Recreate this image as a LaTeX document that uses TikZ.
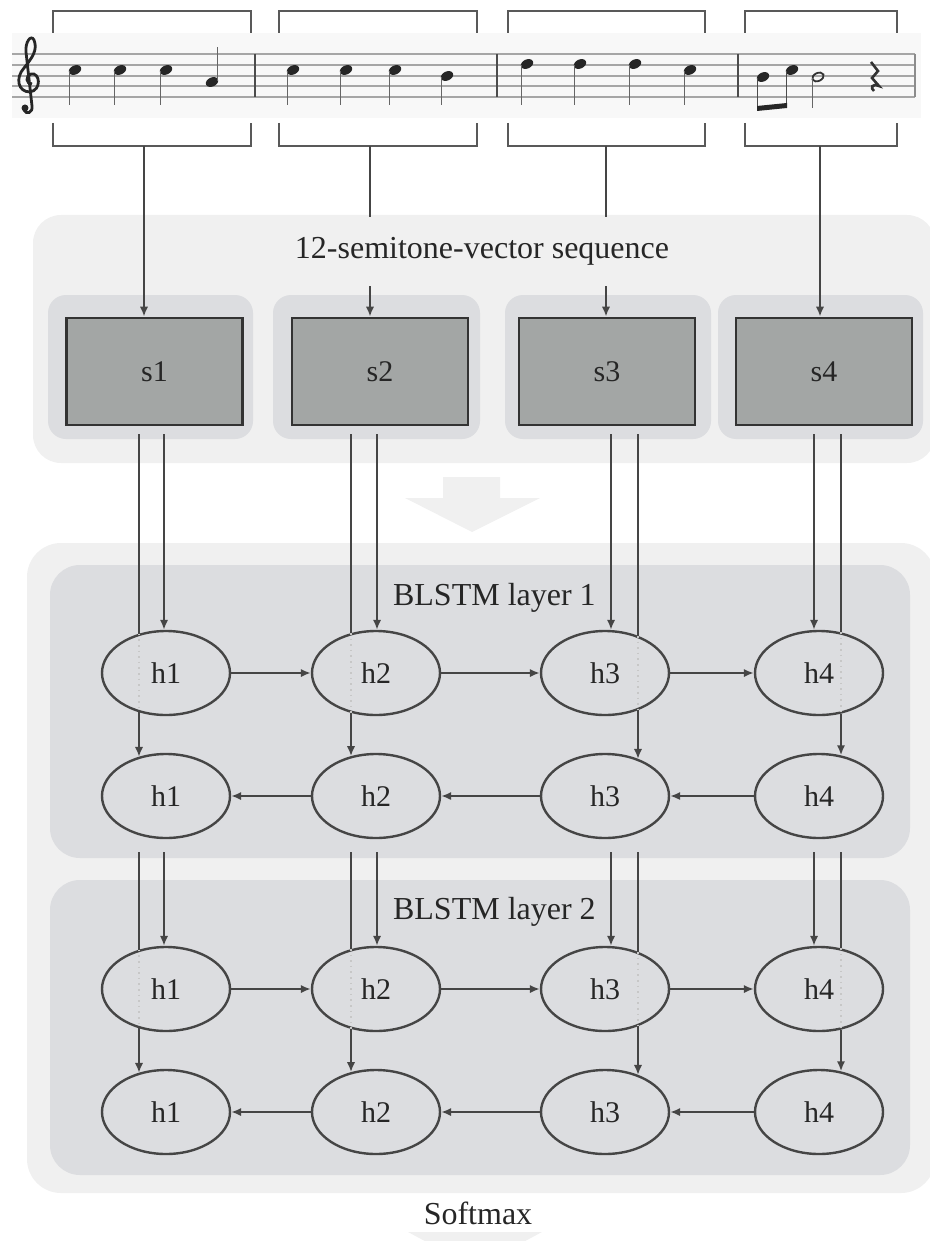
\documentclass[tikz,border=0pt]{standalone}
\usepackage{fontspec}
\setmainfont{Liberation Serif}
\usepackage{tikz}
\usetikzlibrary{shapes.geometric, arrows.meta, calc}
\definecolor{panel}{HTML}{F0F0F0}
\definecolor{layer}{HTML}{DCDDE0}
\definecolor{boxfill}{HTML}{A3A6A5}
\definecolor{ink}{HTML}{454545}
\definecolor{staffbg}{HTML}{F8F8F8}
\tikzstyle{vec} = [rectangle, minimum width=88pt, minimum height=53.5pt, text centered, draw=black!80, line width=1.4pt, fill=boxfill, text=black!85, font=\fontsize{15}{18}\selectfont]
\tikzstyle{cell} = [ellipse, minimum width=64pt, minimum height=42pt, inner sep=0pt, draw=ink, line width=1.2pt, text=black!85, font=\fontsize{15}{18}\selectfont]
\tikzstyle{wire} = [draw=ink, line width=1pt]
\tikzstyle{arrow} = [wire, -{Latex[length=5pt,width=4.2pt]}]
\tikzstyle{dotwire} = [draw=black!22, line width=0.8pt, dotted]
\tikzstyle{layertext} = [text=black!85, font=\fontsize{16}{19}\selectfont]
\tikzstyle{bracket} = [draw=black!65, line width=1.2pt]

\begin{document}
\begin{tikzpicture}[x=0.5pt, y=-0.5pt]
   \useasboundingbox (0,0) rectangle (930,1241);

   \fill[staffbg] (12,33) rectangle (921,118);
   \foreach \k in {0,...,4}
      \draw[black!35, line width=1pt] (12,{54+10.8*\k}) -- (915,{54+10.8*\k});
   \foreach \x in {255, 497, 738}
      \draw[black!70, line width=1.2pt] (\x,54) -- (\x,97.2);
   \draw[black!45, line width=0.8pt] (915,54) -- (915,97.2);
   \draw[black!85, line width=1.4pt] (32,84) .. controls (26,84) and (25,76) .. (31,74)
      .. controls (40,72) and (42,90) .. (30,92) .. controls (18,92) and (15,78) .. (24,68)
      .. controls (32,58) and (38,50) .. (34,40) .. controls (31,34) and (25,42) .. (26,52)
      -- (32,106) .. controls (33,113) and (26,115) .. (24,110);
   \fill[black!85] (25,108) circle [radius=3.5];
   \foreach \x/\y in {75/70, 120/70, 166/70, 293/70, 346/70, 395/70, 447/76, 527/64, 580/64, 635/64, 690/70} {
      \fill[black!85, shift={(\x,\y)}, rotate=25] (0,0) ellipse [x radius=6.5, y radius=4.5];
      \draw[black!60, line width=0.9pt] (\x-5.5,\y+1) -- (\x-5.5,105);
   }
   \fill[black!85, shift={(212,82)}, rotate=25] (0,0) ellipse [x radius=6.5, y radius=4.5];
   \draw[black!60, line width=0.9pt] (217.5,81) -- (217.5,47);
   \fill[black!85, shift={(763,77)}, rotate=25] (0,0) ellipse [x radius=6.5, y radius=4.5];
   \fill[black!85, shift={(792,70)}, rotate=25] (0,0) ellipse [x radius=6.5, y radius=4.5];
   \draw[black!70, line width=0.9pt] (757.5,78) -- (757.5,108) (786.5,71) -- (786.5,106);
   \fill[black!85] (757,106) -- (787,103) -- (787,108) -- (757,111) -- cycle;
   \draw[black!80, line width=0.9pt, shift={(818,77)}, rotate=25] (0,0) ellipse [x radius=6, y radius=4];
   \draw[black!60, line width=0.9pt] (812.5,78) -- (812.5,108);
   \draw[black!80, line width=1.3pt] (871,62) -- (878,71) -- (872,78) -- (879,86)
      .. controls (872,83) and (870,88) .. (874,91);

   \foreach \l/\r in {53/251, 279/477, 508/705, 745/897} {
      \draw[bracket] (\l,33) -- (\l,11) -- (\r,11) -- (\r,33);
      \draw[bracket] (\l,123) -- (\l,146) -- (\r,146) -- (\r,123);
   }
   \coordinate (m1) at (144,146);
   \coordinate (m2) at (370,146);
   \coordinate (m3) at (606,146);
   \coordinate (m4) at (820,146);

   \fill[panel, rounded corners=14pt] (33,215) rectangle (935,463);
   \foreach \l/\r in {48/253, 273/480, 505/711, 718/923}
      \fill[layer, rounded corners=9pt] (\l,295) rectangle (\r,439);
   \node (seq) [layertext, minimum height=34.5pt] at (482,251.5) {12-semitone-vector sequence};
   \node (s1) [vec] at (154.5,371.5) {s1};
   \node (s2) [vec] at (380,371.5) {s2};
   \node (s3) [vec] at (607,371.5) {s3};
   \node (s4) [vec] at (824,371.5) {s4};
   \draw [arrow] (m1) -- (s1.north -| m1);
   \draw [wire] (m2) -- (seq.north -| m2);
   \draw [arrow] (seq.south -| m2) -- (s2.north -| m2);
   \draw [wire] (m3) -- (seq.north -| m3);
   \draw [arrow] (seq.south -| m3) -- (s3.north -| m3);
   \draw [arrow] (m4) -- (s4.north -| m4);

   \fill[panel] (443,477) -- (500,477) -- (500,498) -- (540,498) -- (472,532) -- (405,498) -- (443,498) -- cycle;

   \fill[panel, rounded corners=17pt] (27,543) rectangle (935,1193);
   \fill[layer, rounded corners=15pt] (50,565) rectangle (910,858);
   \fill[layer, rounded corners=15pt] (50,880) rectangle (910,1175);
   \node (l1) [layertext, anchor=west] at (386,598) {BLSTM layer 1};
   \node (l2) [layertext, anchor=west] at (386,912) {BLSTM layer 2};

   \foreach \i/\x in {1/166, 2/376, 3/605, 4/819} {
      \node (a\i) [cell] at (\x,673) {h\i};
      \node (b\i) [cell] at (\x,796) {h\i};
      \node (c\i) [cell] at (\x,989) {h\i};
      \node (d\i) [cell] at (\x,1112) {h\i};
   }
   \foreach \i/\j in {1/2, 2/3, 3/4} {
      \draw [arrow] (a\i) -- (a\j);
      \draw [arrow] (b\j) -- (b\i);
      \draw [arrow] (c\i) -- (c\j);
      \draw [arrow] (d\j) -- (d\i);
   }

   \foreach \i/\ox/\ot/\ua/\ub in {1/-2/-27/125/235, 2/1/-25/122/238, 3/6/33/48/312, 4/-5/22/62/298} {
      \coordinate (p\i) at ($(s\i.south -| a\i)+(\ox,8)$);
      \coordinate (q\i) at ($(s\i.south -| a\i)+(\ot,8)$);
      \draw [arrow] (p\i) -- (a\i.north -| p\i);
      \draw [wire] (q\i) -- (a\i.\ua -| q\i);
      \draw [dotwire] (a\i.\ua -| q\i) -- (a\i.\ub -| q\i);
      \draw [arrow] (a\i.\ub -| q\i) -- (b\i.\ua -| q\i);
      \coordinate (u\i) at ($(b\i.south)+(\ox,13)$);
      \coordinate (v\i) at ($(b\i.south)+(\ot,13)$);
      \draw [arrow] (u\i) -- (c\i.north -| u\i);
      \draw [wire] (v\i) -- (c\i.\ua -| v\i);
      \draw [dotwire] (c\i.\ua -| v\i) -- (c\i.\ub -| v\i);
      \draw [arrow] (c\i.\ub -| v\i) -- (d\i.\ua -| v\i);
   }

   \node (soft) [layertext] at (478,1213) {Softmax};
   \fill[panel] (408,1232) -- (542,1232) -- (475,1268) -- cycle;
\end{tikzpicture}
\end{document}
